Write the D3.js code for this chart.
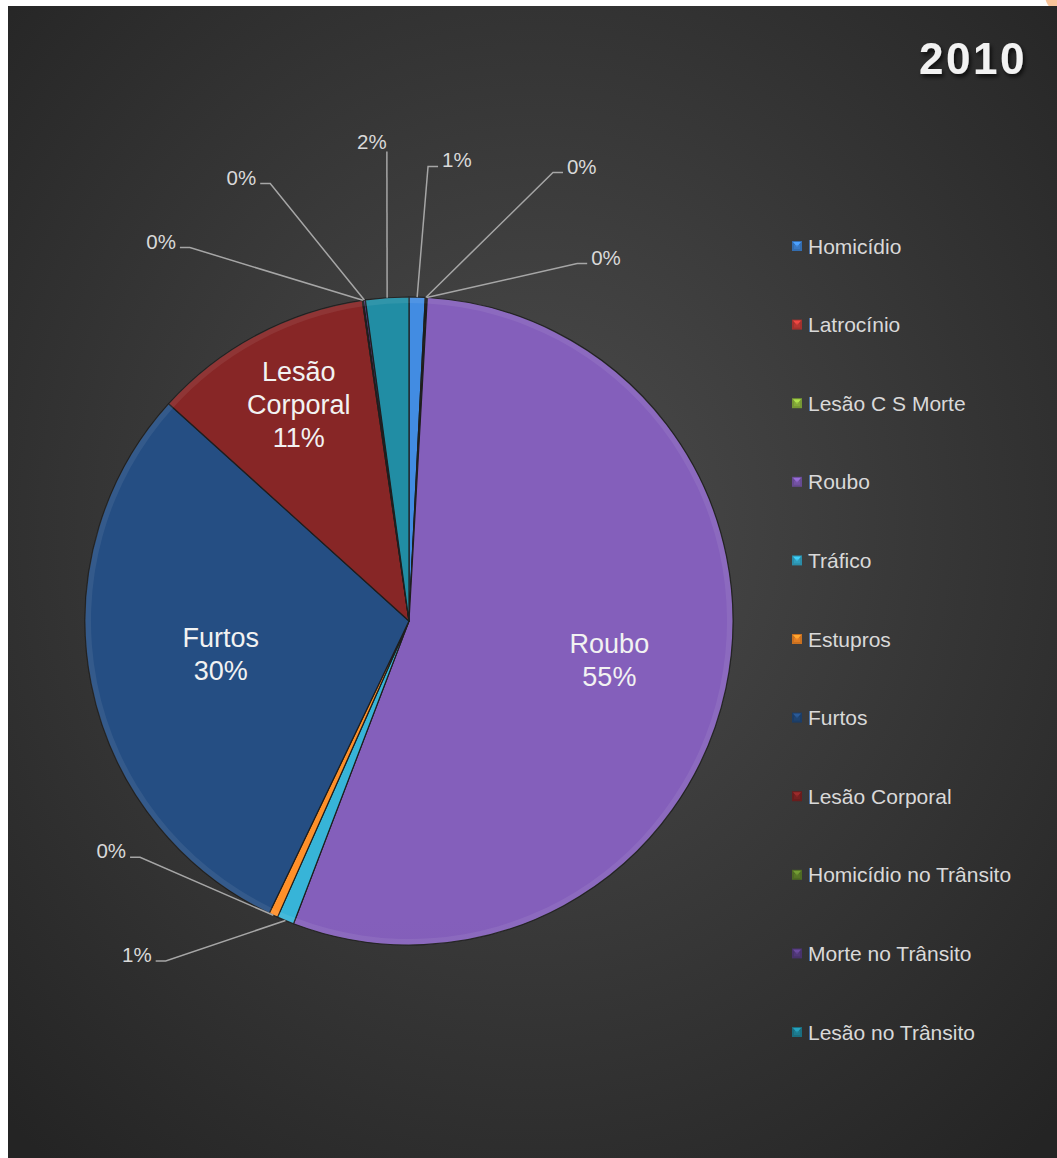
<!DOCTYPE html>
<html>
<head>
<meta charset="utf-8">
<title>2010</title>
<style>
    body { margin: 0; background: #ffffff; font-family: "Liberation Sans", Arial, sans-serif; }
    svg { display: block; }
</style>
<script src="https://d3js.org/d3.v7.min.js"></script>
</head>
<body>
<script>
// data (share of total, %)
var categories = ["Homicídio", "Latrocínio", "Lesão C S Morte", "Roubo", "Tráfico", "Estupros",
                  "Furtos", "Lesão Corporal", "Homicídio no Trânsito", "Morte no Trânsito", "Lesão no Trânsito"];
var values = [0.8, 0.05, 0.05, 54.9, 0.85, 0.45, 29.6, 11.0, 0.05, 0.1, 2.15];
var colors = ["#3d82d2", "#c23a36", "#8db63e", "#7b58ae", "#33a8c9", "#f08626",
              "#22497a", "#7e2323", "#5d7f2a", "#563c80", "#1f8399"];
var title = "2010";

var width = 1057, height = 1158;
var cx = 409, cy = 621, radius = 324;

// where labels sit: inside ones [angle deg, fraction of radius], outside ones [angle deg, distance px]
var insideLabels = { "Roubo": [101, 0.63], "Furtos": [260, 0.59], "Lesão Corporal": [333, 0.75] };
var outsideLabels = {
    "Homicídio": [2.4, 455], "Latrocínio": [17.8, 471], "Lesão C S Morte": [25.2, 395],
    "Tráfico": [215.6, 418], "Estupros": [228.7, 358],
    "Homicídio no Trânsito": [-30.4, 433], "Morte no Trânsito": [-17.6, 459], "Lesão no Trânsito": [-2.7, 470]
};

var svg = d3.select("body").append("svg")
    .attr("width", width)
    .attr("height", height);

var defs = svg.append("defs");

var bg = defs.append("radialGradient").attr("id", "bg")
    .attr("cx", "50%").attr("cy", "45%").attr("r", "72%");
bg.append("stop").attr("offset", "0%").attr("stop-color", "#4c4c4c");
bg.append("stop").attr("offset", "100%").attr("stop-color", "#242424");

var shadow = defs.append("filter").attr("id", "shadow")
    .attr("x", "-20%").attr("y", "-20%").attr("width", "140%").attr("height", "160%");
shadow.append("feDropShadow").attr("dx", 2).attr("dy", 3).attr("stdDeviation", 2)
    .attr("flood-color", "#000").attr("flood-opacity", 0.7);

// slice gradients, lighter at top, darker at bottom
colors.forEach(function(c, i) {
    var g = defs.append("linearGradient").attr("id", "sl" + i)
        .attr("gradientUnits", "userSpaceOnUse")
        .attr("x1", 0).attr("y1", cy - radius).attr("x2", 0).attr("y2", cy + radius);
    g.append("stop").attr("offset", "0%").attr("stop-color", d3.color(c).brighter(0.2));
    g.append("stop").attr("offset", "100%").attr("stop-color", d3.color(c).darker(0.3));
});

// little orange blob in the top right corner
svg.append("circle").attr("cx", 1063).attr("cy", -5).attr("r", 18).attr("fill", "#f9c49a");

svg.append("rect")
    .attr("x", 8).attr("y", 6)
    .attr("width", width - 8).attr("height", height - 6)
    .attr("fill", "url(#bg)");

svg.append("text")
    .attr("x", 1027).attr("y", 74)
    .attr("text-anchor", "end")
    .attr("font-size", 44).attr("font-weight", "bold")
    .attr("letter-spacing", 2.5)
    .attr("fill", "#f2f2f2")
    .attr("filter", "url(#shadow)")
    .text(title);

var pie = d3.pie().sort(null).value(function(d) { return d; });
var arcs = pie(values);
var arc = d3.arc().innerRadius(0).outerRadius(radius);
var rim = d3.arc().innerRadius(radius - 6).outerRadius(radius);

var g = svg.append("g").attr("transform", "translate(" + cx + "," + cy + ")");

g.selectAll("path.slice")
    .data(arcs)
    .enter()
    .append("path")
    .attr("class", "slice")
    .attr("d", arc)
    .attr("fill", function(d, i) { return "url(#sl" + i + ")"; })
    .attr("stroke", "#1e1e1e")
    .attr("stroke-width", 1.2)
    .attr("stroke-linejoin", "round");

// bevel on the outer edge
g.selectAll("path.rim")
    .data(arcs)
    .enter()
    .append("path")
    .attr("class", "rim")
    .attr("d", rim)
    .attr("fill", "#ffffff")
    .attr("fill-opacity", 0.07);

function polar(deg, r) {
    var a = deg * Math.PI / 180;
    return [Math.sin(a) * r, -Math.cos(a) * r];
}
function pct(v) { return Math.round(v) + "%"; }

// labels inside the big slices
arcs.forEach(function(d, i) {
    var name = categories[i];
    var lay = insideLabels[name];
    if (!lay) return;
    var p = polar(lay[0], radius * lay[1]);
    var lines = name.split(" ").concat([pct(values[i])]);
    var lh = 33, fs = 27;
    var t = g.append("text")
        .attr("text-anchor", "middle")
        .attr("font-size", fs)
        .attr("fill", "#f2f2f2");
    lines.forEach(function(s, k) {
        t.append("tspan")
            .attr("x", p[0])
            .attr("y", p[1] - (lines.length - 1) * lh / 2 + k * lh + fs * 0.35)
            .text(s);
    });
});

// outside labels with leader lines
arcs.forEach(function(d, i) {
    var name = categories[i];
    var lay = outsideLabels[name];
    if (!lay) return;
    var mid = (d.startAngle + d.endAngle) / 2 * 180 / Math.PI;
    var p0 = polar(mid, radius);
    var p1 = polar(lay[0], lay[1]);
    var vertical = Math.abs(p1[0] - p0[0]) < 30 && p1[0] < 0;
    var pts = [p0, p1];
    var tx, ty, anchor;
    if (vertical) {
        tx = p1[0] - 15; ty = p1[1] - 3; anchor = "middle";
    } else {
        var dir = p1[0] < p0[0] ? -1 : 1;
        var p2 = [p1[0] + dir * 10, p1[1]];
        pts.push(p2);
        tx = p2[0] + dir * 4; ty = p1[1] + 1; anchor = dir < 0 ? "end" : "start";
    }
    g.append("path")
        .attr("d", d3.line()(pts))
        .attr("fill", "none")
        .attr("stroke", "#a6a6a6")
        .attr("stroke-width", 1.5);
    g.append("text")
        .attr("x", tx).attr("y", ty)
        .attr("text-anchor", anchor)
        .attr("font-size", 20.5)
        .attr("fill", "#d9d9d9")
        .text(pct(values[i]));
});

// legend
var ly = d3.scalePoint().domain(categories).range([246, 1032]);
var legend = svg.append("g").selectAll("g")
    .data(categories)
    .enter()
    .append("g")
    .attr("transform", function(d) { return "translate(792," + ly(d) + ")"; });

legend.append("rect")
    .attr("x", 0).attr("y", -5)
    .attr("width", 10).attr("height", 10)
    .attr("fill", function(d, i) { return d3.color(colors[i]).darker(0.5); });
legend.append("path")
    .attr("d", "M1,-4L9,-4L5,1Z")
    .attr("fill", function(d, i) { return d3.color(colors[i]).brighter(0.6); });
legend.append("rect")
    .attr("x", 2).attr("y", -1)
    .attr("width", 6).attr("height", 4)
    .attr("fill", function(d, i) { return colors[i]; })
    .attr("fill-opacity", 0.6);

legend.append("text")
    .attr("x", 16).attr("y", 7.5)
    .attr("font-size", 21)
    .attr("fill", "#d9d9d9")
    .text(function(d) { return d; });
</script>
</body>
</html>
